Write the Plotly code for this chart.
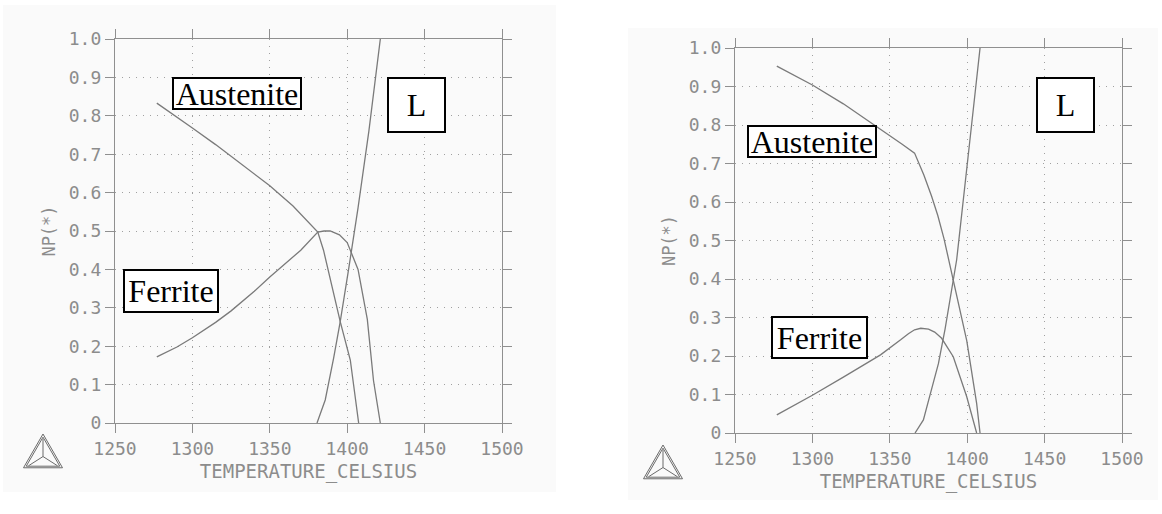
import plotly.graph_objects as go

# ---- phase fractions vs temperature, alloy A (left diagram) ----
a_aus_T = [1277, 1290, 1300, 1315, 1325, 1340, 1350, 1365, 1381, 1384.7, 1391.2, 1395.5, 1402, 1407.4]
a_aus_NP = [0.833, 0.797, 0.768, 0.725, 0.695, 0.65, 0.618, 0.565, 0.497, 0.45, 0.338, 0.264, 0.164, 0.0]

a_fer_T = [1277, 1290, 1300, 1315, 1325, 1340, 1350, 1360, 1370, 1381, 1385, 1389, 1395, 1400, 1403, 1407, 1413, 1417, 1421.4]
a_fer_NP = [0.172, 0.198, 0.222, 0.262, 0.292, 0.343, 0.38, 0.415, 0.45, 0.497, 0.50, 0.50, 0.49, 0.47, 0.44, 0.40, 0.27, 0.11, 0.0]

a_liq_T = [1380.5, 1385.8, 1391.2, 1395.5, 1400.9, 1407, 1414, 1421.4]
a_liq_NP = [0.0, 0.06, 0.168, 0.264, 0.40, 0.56, 0.76, 1.0]

# ---- phase fractions vs temperature, alloy B (right diagram) ----
b_aus_T = [1277, 1300, 1320, 1344, 1358, 1366, 1372, 1377, 1381, 1385, 1390.8, 1395, 1399.7, 1406.1, 1408.3]
b_aus_NP = [0.953, 0.904, 0.855, 0.79, 0.75, 0.727, 0.67, 0.615, 0.565, 0.505, 0.40, 0.325, 0.24, 0.077, 0.0]

b_fer_T = [1277, 1300, 1320, 1337, 1344, 1357, 1362, 1366, 1370, 1375, 1379, 1383.5, 1391, 1399.7, 1406.1]
b_fer_NP = [0.047, 0.098, 0.145, 0.185, 0.203, 0.242, 0.258, 0.268, 0.272, 0.27, 0.262, 0.246, 0.198, 0.094, 0.0]

b_liq_T = [1366.3, 1371.7, 1376, 1381.4, 1385.7, 1391, 1393.2, 1400.5, 1408.3]
b_liq_NP = [0.0, 0.034, 0.099, 0.18, 0.27, 0.40, 0.45, 0.715, 1.0]

# ---- axes ----
x_ticks = [1250, 1300, 1350, 1400, 1450, 1500]
y_ticks = [0, 0.1, 0.2, 0.3, 0.4, 0.5, 0.6, 0.7, 0.8, 0.9, 1.0]
y_ticktext = ["0", "0.1", "0.2", "0.3", "0.4", "0.5", "0.6", "0.7", "0.8", "0.9", "1.0"]
x_title = "TEMPERATURE_CELSIUS"
y_title = "NP(*)"

# phase labels: (text, T, NP, box width, box height) per diagram
a_labels = [("Austenite", 1329, 0.859, 130, 33), ("Ferrite", 1286, 0.345, 96, 44), ("L", 1445, 0.828, 59, 56)]
b_labels = [("Austenite", 1300, 0.758, 130, 33), ("Ferrite", 1304.3, 0.247, 97, 43), ("L", 1463.2, 0.852, 59, 56)]

W, H = 1162, 514
CURVE = "#7a7a7a"
AXIS = "#8f8f8f"
TICKFONT = dict(family="DejaVu Sans Mono", size=18, color="#8c8c8c")


def px(x):
    return x / W


def py(y):
    return 1 - y / H


fig = go.Figure()

panels = [
    ("x", "y", (a_aus_T, a_aus_NP), (a_fer_T, a_fer_NP), (a_liq_T, a_liq_NP), a_labels),
    ("x2", "y2", (b_aus_T, b_aus_NP), (b_fer_T, b_fer_NP), (b_liq_T, b_liq_NP), b_labels),
]
for xa, ya, aus, fer, liq, labels in panels:
    for name, (t, f) in (("Austenite", aus), ("Ferrite", fer), ("L", liq)):
        fig.add_trace(go.Scatter(x=t, y=f, mode="lines", name=name, xaxis=xa, yaxis=ya,
                                 line=dict(color=CURVE, width=1.3), showlegend=False,
                                 hoverinfo="skip"))
    for text, t, f, bw, bh in labels:
        fig.add_annotation(x=t, y=f, xref=xa, yref=ya, text=text, showarrow=False,
                           font=dict(family="Liberation Serif", size=32, color="black"),
                           bgcolor="white", bordercolor="black", borderwidth=2,
                           borderpad=0, width=bw - 4, height=bh - 4)

axis_common = dict(
    showline=True, linecolor=AXIS, linewidth=1.3, mirror="ticks",
    ticks="outside", ticklen=9, tickwidth=1.3, tickcolor=AXIS,
    showgrid=True, gridcolor="#a0a0a0", gridwidth=1, griddash="1px,6px",
    zeroline=False, tickfont=TICKFONT, automargin=False,
)
xaxis_common = dict(axis_common, range=[1250, 1500], tickvals=x_ticks,
                    title=dict(text=x_title, font=dict(TICKFONT, size=19), standoff=6))
yaxis_common = dict(axis_common, range=[0, 1.0], tickvals=y_ticks, ticktext=y_ticktext,
                    title=dict(text=y_title, font=dict(TICKFONT, size=17), standoff=8))

fig.update_layout(
    width=W, height=H, margin=dict(l=0, r=0, t=0, b=0, autoexpand=False),
    paper_bgcolor="white", plot_bgcolor="rgba(0,0,0,0)",
    xaxis=dict(xaxis_common, domain=[px(115), px(502)], anchor="y"),
    yaxis=dict(yaxis_common, domain=[py(423), py(39)], anchor="x"),
    xaxis2=dict(xaxis_common, domain=[px(735), px(1122)], anchor="y2"),
    yaxis2=dict(yaxis_common, domain=[py(433), py(48)], anchor="x2"),
)

# scanned-sheet backgrounds behind each diagram
for x0, y0, x1, y1 in [(3, 5, 556, 492), (628, 28, 1158, 500)]:
    fig.add_shape(type="rect", xref="paper", yref="paper", layer="below",
                  x0=px(x0), x1=px(x1), y0=py(y1), y1=py(y0),
                  fillcolor="#fafafa", line=dict(width=0))


# Thermo-Calc style triangle logo
def logo(cx, top, size):
    h = size * 0.866
    ax, ay = cx, top
    bx, by = cx - size / 2, top + h
    qx, qy = cx + size / 2, top + h
    gx, gy = cx, top + h * 2 / 3
    lines = []
    for s in (1.0, 0.86):
        ox = (1 - s) * gx
        oy = (1 - s) * gy
        pts = [(ax * s + ox, ay * s + oy), (bx * s + ox, by * s + oy), (qx * s + ox, qy * s + oy)]
        lines.append("M {} {} L {} {} L {} {} Z".format(
            px(pts[0][0]), py(pts[0][1]), px(pts[1][0]), py(pts[1][1]), px(pts[2][0]), py(pts[2][1])))
    for vx, vy in ((ax, ay + 5), (bx + 5, by - 2), (qx - 5, qy - 2)):
        lines.append("M {} {} L {} {}".format(px(gx), py(gy), px(vx), py(vy)))
    for p in lines:
        fig.add_shape(type="path", path=p, xref="paper", yref="paper",
                      line=dict(color="#6a6a6a", width=1))


logo(43, 434, 39)
logo(663, 445, 39)

fig.write_html("out.html")
